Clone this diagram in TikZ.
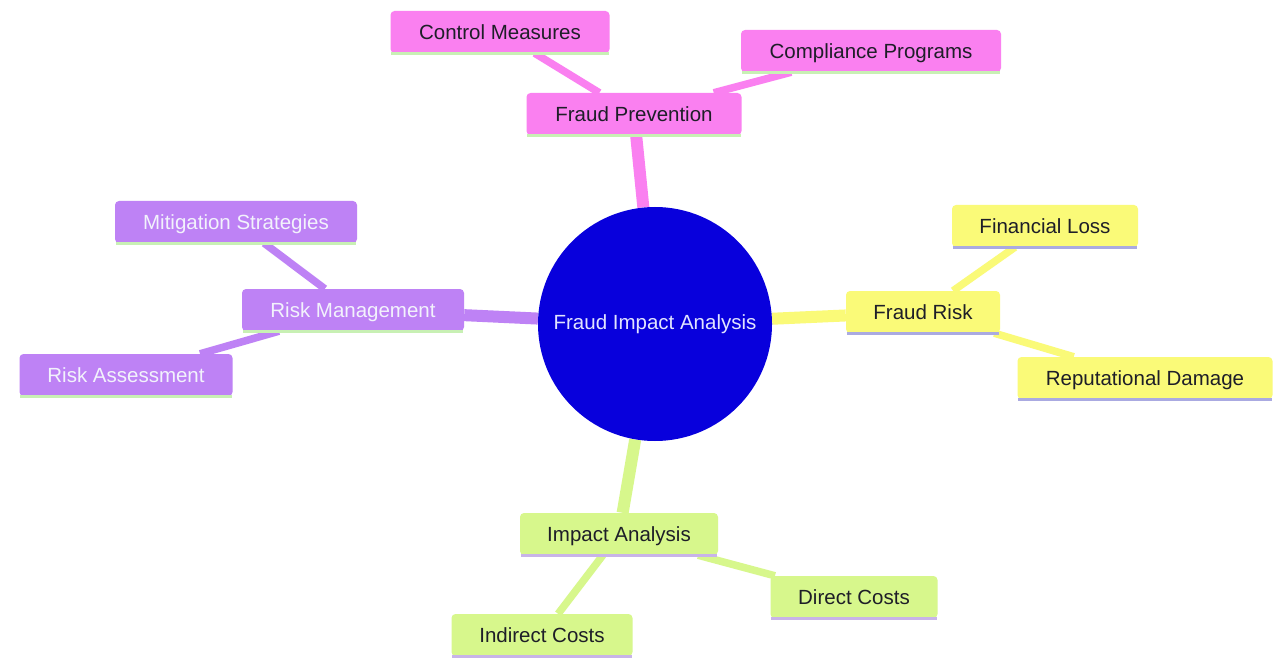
\documentclass[tikz,border=0pt]{standalone}
\usepackage{fontspec}
\setmainfont{Liberation Sans}
\usetikzlibrary{backgrounds}
\definecolor{pinkc}{RGB}{250,128,240}
\definecolor{purplec}{RGB}{190,130,245}
\definecolor{yellowc}{RGB}{250,250,120}
\definecolor{greenc}{RGB}{215,247,140}
\definecolor{bluec}{RGB}{8,0,220}
\definecolor{darktext}{RGB}{30,30,40}
\definecolor{lighttext}{RGB}{242,242,252}
\definecolor{ulgreen}{RGB}{200,240,180}
\definecolor{ullav}{RGB}{170,170,225}
\definecolor{ulpurp}{RGB}{200,180,232}
\begin{document}
\begin{tikzpicture}[x=1pt,y=-1pt,
  font=\fontsize{20.5}{24}\selectfont,
  box/.style={rounded corners=4pt, inner xsep=0pt, inner ysep=0pt, minimum height=42pt,
    text height=17pt, text depth=2pt},
  pinkbox/.style={box, fill=pinkc, text=darktext},
  purplebox/.style={box, fill=purplec, text=lighttext},
  yellowbox/.style={box, fill=yellowc, text=darktext},
  greenbox/.style={box, fill=greenc, text=darktext},
  thick edge/.style={line width=12pt},
  thin edge/.style={line width=7.5pt},
  ul/.style={line width=3pt}
]
\useasboundingbox (0,0) rectangle (1274,663);

% central
\node[circle, fill=bluec, minimum size=234pt, inner sep=0pt, text={rgb,255:red,225;green,228;blue,255}] (c) at (655,324) {Fraud Impact Analysis};

% pink
\node[pinkbox, minimum width=215pt] (fp) at (634,114) {Fraud Prevention};
\node[pinkbox, minimum width=219pt] (cm) at (500,32) {Control Measures};
\node[pinkbox, minimum width=260pt] (cp) at (871,51) {Compliance Programs};

% purple
\node[purplebox, minimum width=222pt] (rm) at (353,310) {Risk Management};
\node[purplebox, minimum width=242pt] (ms) at (236,222) {Mitigation Strategies};
\node[purplebox, minimum width=213pt] (ra) at (126,375) {Risk Assessment};

% yellow
\node[yellowbox, minimum width=154pt] (fr) at (923,312) {Fraud Risk};
\node[yellowbox, minimum width=186pt] (fl) at (1045,226) {Financial Loss};
\node[yellowbox, minimum width=255pt] (rd) at (1145,378) {Reputational Damage};

% green
\node[greenbox, minimum width=198pt] (ia) at (619,534) {Impact Analysis};
\node[greenbox, minimum width=167pt] (dc) at (854,597) {Direct Costs};
\node[greenbox, minimum width=181pt] (ic) at (542,635) {Indirect Costs};

% underlines
\foreach \n/\col in {fp/ulgreen,cm/ulgreen,cp/ulgreen,rm/ulgreen,ms/ulgreen,ra/ulgreen,
  fr/ullav,fl/ullav,rd/ullav,ia/ulpurp,dc/ulpurp,ic/ulpurp}{
  \draw[ul, \col] ([xshift=1pt]\n.south west) -- ([xshift=-1pt]\n.south east);
}

\begin{pgfonlayer}{background}
\fill[white] (0,0) rectangle (1274,663);
\draw[thick edge, pinkc] (c) -- (fp);
\draw[thin edge, pinkc] (fp) -- (cm);
\draw[thin edge, pinkc] (fp) -- (cp);
\draw[thick edge, purplec] (c) -- (rm);
\draw[thin edge, purplec] (rm) -- (ms);
\draw[thin edge, purplec] (rm) -- (ra);
\draw[thick edge, yellowc] (c) -- (fr);
\draw[thin edge, yellowc] (fr) -- (fl);
\draw[thin edge, yellowc] (fr) -- (rd);
\draw[thick edge, greenc] (c) -- (ia);
\draw[thin edge, greenc] (ia) -- (dc);
\draw[thin edge, greenc] (ia) -- (ic);
\end{pgfonlayer}
\end{tikzpicture}
\end{document}
